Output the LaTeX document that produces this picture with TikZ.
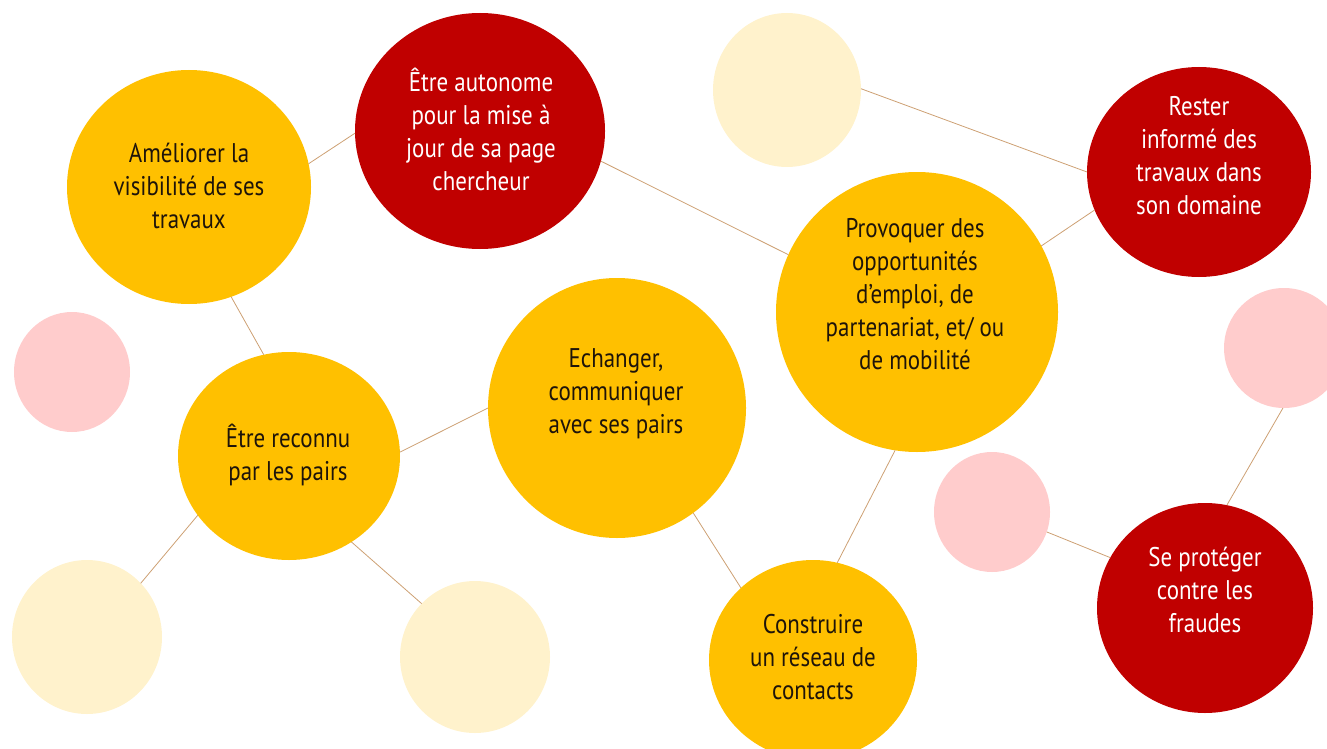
\documentclass[tikz,border=0pt]{standalone}
\usepackage{fontspec}
\setmainfont{PT Sans}[FakeStretch=0.85]
\usetikzlibrary{shapes.geometric}
\definecolor{gold}{RGB}{255,192,0}
\definecolor{darkred}{RGB}{192,0,0}
\definecolor{paleyellow}{RGB}{255,242,204}
\definecolor{palepink}{RGB}{255,204,204}
\definecolor{linkcol}{RGB}{205,160,115}
\definecolor{textdark}{RGB}{30,20,10}
\begin{document}
\begin{tikzpicture}[x=1pt,y=-1pt,
  bub/.style n args={3}{ellipse,inner sep=0pt,outer sep=0pt,draw=none,fill=#1,minimum width=#2,minimum height=#3},
  link/.style={draw=linkcol,line width=0.8pt},
  lab/.style={align=center,inner sep=0pt,font=\fontsize{27}{33}\selectfont},
  darklab/.style={lab,text=textdark},
  lightlab/.style={lab,text=white}]
\useasboundingbox (0,0) rectangle (1327,749);
\clip (0,0) rectangle (1327,749);
% circles
\node[bub={gold}{244pt}{234pt}] (ame) at (189,187) {};
\node[bub={darkred}{250pt}{236pt}] (auto) at (480,131) {};
\node[bub={paleyellow}{148pt}{154pt}] (ly1) at (787,90) {};
\node[bub={darkred}{224pt}{210pt}] (rester) at (1199,172) {};
\node[bub={gold}{282pt}{280pt}] (provo) at (917,312) {};
\node[bub={palepink}{116pt}{120pt}] (pinkL) at (72,372) {};
\node[bub={gold}{222pt}{208pt}] (recon) at (289,456) {};
\node[bub={gold}{258pt}{260pt}] (echan) at (617,408) {};
\node[bub={palepink}{120pt}{120pt}] (pinkR) at (1284,348) {};
\node[bub={palepink}{116pt}{120pt}] (pinkM) at (992,512) {};
\node[bub={darkred}{216pt}{210pt}] (prot) at (1205,608) {};
\node[bub={paleyellow}{150pt}{154pt}] (lyBL) at (87,637) {};
\node[bub={paleyellow}{150pt}{152pt}] (lyB) at (475,657) {};
\node[bub={gold}{208pt}{200pt}] (constr) at (813,660) {};
% connectors
\draw[link] (ame.11) -- (auto.181);
\draw[link] (ame.291) -- (recon.104);
\draw[link] (auto.346) -- (provo.156);
\draw[link] (ly1.1) -- (rester.180);
\draw[link] (provo.28) -- (rester.200);
\draw[link] (recon.2) -- (echan.180);
\draw[link] (recon.213) -- (lyBL.45);
\draw[link] (recon.306) -- (lyB.135);
\draw[link] (echan.306) -- (constr.135);
\draw[link] (provo.261) -- (constr.76);
\draw[link] (pinkM.340) -- (prot.152);
\draw[link] (pinkR.269) -- (prot.78);
% texts
\node[darklab] (tame) at (189,186) {Améliorer la\\visibilité de ses\\travaux};
\node[lightlab] (tauto) at (481,129) {Être autonome\\pour la mise à\\jour de sa page\\chercheur};
\node[lightlab] (trester) at (1199,156) {Rester\\informé des\\travaux dans\\son domaine};
\node[darklab] (tprovo) at (915,294) {Provoquer des\\opportunités\\d’emploi, de\\partenariat, et/ ou\\de mobilité};
\node[darklab] (techan) at (616,394) {Echanger,\\communiquer\\avec ses pairs};
\node[darklab] (trecon) at (288,455) {Être reconnu\\par les pairs};
\node[darklab] (tconstr) at (813,657) {Construire\\un réseau de\\contacts};
\node[lightlab] (tprot) at (1205,590) {Se protéger\\contre les\\fraudes};
\end{tikzpicture}
\end{document}
